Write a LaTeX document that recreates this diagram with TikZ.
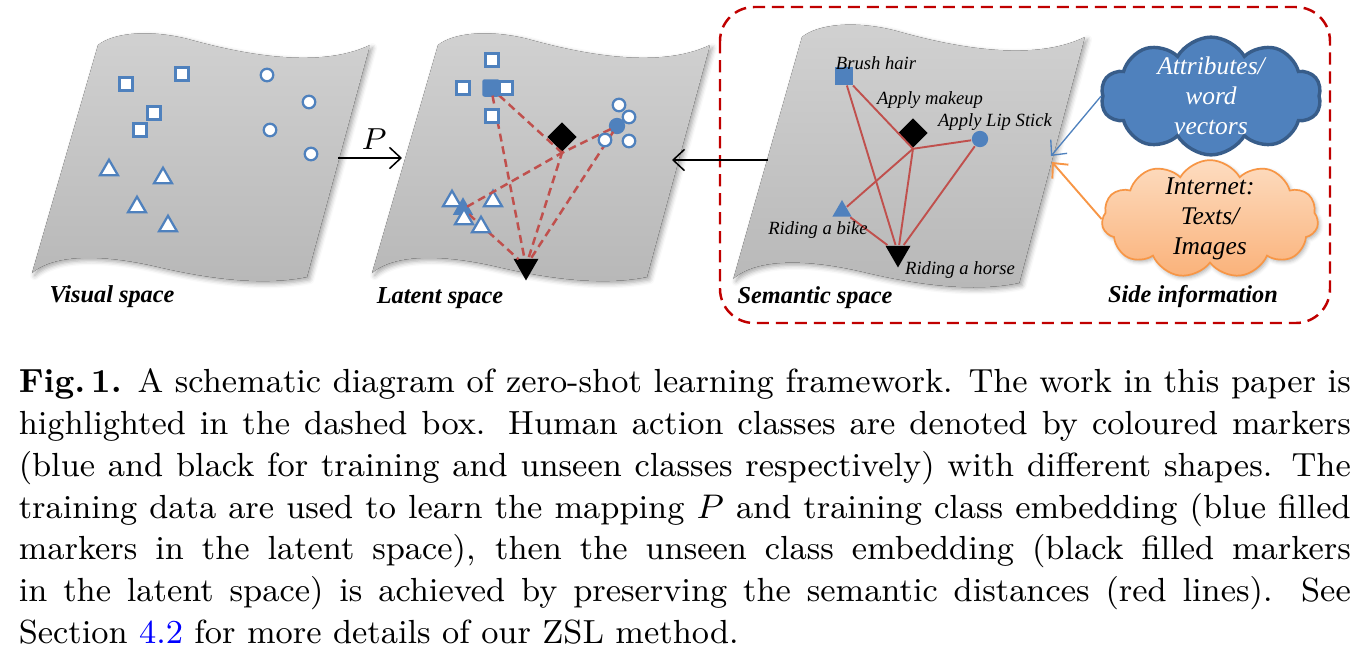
\documentclass[tikz,border=0pt]{standalone}
\usepackage{fontspec}
\newfontfamily\tnr{Liberation Serif}
\usetikzlibrary{shapes.geometric,shapes.symbols,arrows.meta,shadows.blur}
\definecolor{mblue}{HTML}{4F81BD}
\definecolor{dblue}{HTML}{385D8A}
\definecolor{lred}{HTML}{C0504D}
\definecolor{boxred}{HTML}{C00000}
\definecolor{orng}{HTML}{F79646}
\definecolor{peachtop}{HTML}{FDDCC0}
\definecolor{peachbot}{HTML}{FAB27A}
\tikzset{
  sheet/.style={top color=black!18, bottom color=black!28, draw=none,
    blur shadow={shadow xshift=0.7pt, shadow yshift=-0.7pt, shadow blur radius=1.2pt, shadow opacity=35}},
  osq/.style={rectangle, draw=mblue, fill=white, line width=0.6pt, minimum size=3.4pt, inner sep=0pt},
  ocirc/.style={circle, draw=mblue, fill=white, line width=0.6pt, minimum size=3.3pt, inner sep=0pt},
  otri/.style={regular polygon, regular polygon sides=3, draw=mblue, fill=white, line width=0.6pt, minimum size=5.4pt, inner sep=0pt},
  fsq/.style={rectangle, rounded corners=0.6pt, fill=mblue, minimum size=4.6pt, inner sep=0pt},
  fcirc/.style={circle, fill=mblue, minimum size=4.3pt, inner sep=0pt},
  ftri/.style={regular polygon, regular polygon sides=3, fill=mblue, minimum size=6.2pt, inner sep=0pt},
  bdia/.style={diamond, fill=black, minimum size=7.9pt, inner sep=0pt},
  btri/.style={regular polygon, regular polygon sides=3, shape border rotate=180, fill=black, minimum size=7.6pt, inner sep=0pt},
  sptitle/.style={font=\tnr\bfseries\itshape\fontsize{6.4}{7.5}\selectfont, inner sep=0pt},
  cls/.style={font=\tnr\itshape\fontsize{4.9}{6}\selectfont, inner sep=0pt},
  dline/.style={lred, line width=0.65pt, dash pattern=on 2.1pt off 1.3pt, shorten <=-0.5pt, shorten >=-0.5pt},
  sline/.style={lred, line width=0.5pt},
  flow/.style={line width=0.4pt, -{Straight Barb[length=3pt,width=5.6pt]}},
}
\begin{document}
\begin{tikzpicture}[x=0.2632pt,y=-0.2632pt]
  \useasboundingbox (0,0) rectangle (1370,653);
  \newcommand{\sheetpath}{(0,0) .. controls (15,-12) and (50,-16) .. (90,-6)
    .. controls (140,8) and (220,25) .. (272,0) -- (209,232)
    .. controls (170,240) and (120,236) .. (60,222)
    .. controls (0,208) and (-45,210) .. (-66,228) -- cycle}

  % the three spaces
  \begin{scope}[shift={(98,45)}]
    \fill[sheet] \sheetpath;
  \end{scope}
  \begin{scope}[shift={(438,45)}]
    \fill[sheet] \sheetpath;
  \end{scope}
  \begin{scope}[shift={(802,37)}, xscale=1.04, yscale=1.06]
    \fill[sheet] \sheetpath;
  \end{scope}

  % visual space
  \foreach \n/\x/\y in {1/126/84, 2/182/74, 3/154/113, 4/140/130}
    \node[osq] (vsq\n) at (\x,\y) {};
  \foreach \n/\x/\y in {1/267/75, 2/309/102, 3/270/130, 4/311/154}
    \node[ocirc] (vci\n) at (\x,\y) {};
  \foreach \n/\x/\y in {1/109/170, 2/163/178, 3/137/207, 4/168/226}
    \node[otri] (vtr\n) at (\x,\y) {};
  \node[sptitle] (vis) at (112,297) {Visual space};

  % latent space
  \foreach \n/\x/\y in {1/452/201, 2/493/201}
    \node[otri] (ltr\n) at (\x,\y) {};
  \node[fsq] (lsq) at (491,88) {};
  \node[fcirc] (lci) at (617,126) {};
  \node[ftri] (ltr) at (463,209) {};
  \node[bdia] (ldia) at (562,137) {};
  \node[btri] (ldown) at (526,266) {};
  \draw[dline] (lsq) -- (ldia.south);
  \draw[dline] (lsq) -- (ldown);
  \draw[dline] (lci) -- (ldia.south);
  \draw[dline] (lci) -- (ldown);
  \draw[dline] (ldia.south) -- (ltr);
  \draw[dline] (ldia.south) -- (ldown);
  \draw[dline] (ltr) -- (ldown);
  \foreach \n/\x/\y in {1/492/60, 2/463/88, 3/506/88, 4/492/116}
    \node[osq] (lsq\n) at (\x,\y) {};
  \foreach \n/\x/\y in {1/619/105, 2/629/117, 3/605/140, 4/629/141}
    \node[ocirc] (lci\n) at (\x,\y) {};
  \foreach \n/\x/\y in {3/464/219, 4/481/227}
    \node[otri] (ltr\n) at (\x,\y) {};
  \node[sptitle] (lat) at (440,298) {Latent space};

  % semantic space
  \node[fsq, rounded corners=0pt] (ssq) at (844,76) {};
  \node[bdia] (sdia) at (913,133) {};
  \node[fcirc] (sci) at (980,139) {};
  \node[ftri, minimum size=5.8pt] (str) at (842,211) {};
  \node[btri] (sdown) at (898,253) {};
  \draw[sline] (ssq) -- (sdia.south);
  \draw[sline] (ssq) -- (sdown);
  \draw[sline] (sdia.south) -- (sci);
  \draw[sline] (sdia.south) -- (str);
  \draw[sline] (sdia.south) -- (sdown);
  \draw[sline] (sci) -- (sdown);
  \draw[sline] (str) -- (sdown);
  \node[cls] (brush) at (876,63) {Brush hair};
  \node[cls] (makeup) at (930,100) {Apply makeup};
  \node[cls] (lips) at (995,122) {Apply Lip Stick};
  \node[cls] (bike) at (818,230) {Riding a bike};
  \node[cls] (horse) at (960,270) {Riding a horse};
  \node[sptitle] (sem) at (815,298) {Semantic space};

  % side information
  \draw[boxred, line width=0.65pt, dash pattern=on 3.2pt off 1.8pt, rounded corners=9pt]
    (720,7) rectangle (1330,323);
  \node[cloud, cloud puffs=10, cloud puff arc=120, aspect=1.9, fill=mblue, draw=dblue,
    line width=0.9pt, minimum width=58pt, minimum height=31pt, inner sep=-3pt,
    text=white, align=center, font=\tnr\itshape\fontsize{6.7}{7.9}\selectfont]
    (attr) at (1211,96) {Attributes/\\word\\vectors};
  \node[cloud, cloud puffs=11, cloud puff arc=120, aspect=1.9, top color=peachtop,
    bottom color=peachbot, draw=orng, line width=0.45pt, minimum width=57pt,
    minimum height=31pt, inner sep=-3pt, align=center,
    font=\tnr\itshape\fontsize{6.7}{7.9}\selectfont,
    blur shadow={shadow xshift=0.5pt, shadow yshift=-0.6pt, shadow blur radius=1pt, shadow opacity=30}]
    (web) at (1210,219) {Internet:\\Texts/\\Images};
  \node[sptitle] (side) at (1193,297) {Side information};

  % mappings
  \coordinate (vout) at (338,158);
  \coordinate (lin) at (402,158);
  \coordinate (sout) at (768,160);
  \coordinate (lout) at (672,160);
  \coordinate (sa) at (1051,156);
  \coordinate (sb) at (1052,162);
  \draw[flow] (vout) -- (lin);
  \node[font=\fontsize{7.8}{9}\selectfont, inner sep=0pt] (map) at (374,139) {$P$};
  \draw[flow] (sout) -- (lout);
  \draw[flow, mblue, line width=0.35pt] (attr.west) -- (sa);
  \draw[flow, orng, line width=0.5pt] (web.west) -- (sb);

  % caption
  \node[anchor=north west, text width=350.6pt, align=justify, inner sep=0pt, font=\fontsize{8.8}{11}\selectfont] (cap) at (18,368) {\noindent
    \textbf{Fig.\,1.} A schematic diagram of zero-shot learning framework. The work in this paper is\linebreak
    highlighted in the dashed box. Human action classes are denoted by coloured markers\linebreak
    (blue and black for training and unseen classes respectively) with different shapes. The\linebreak
    training data are used to learn the mapping $P$ and training class embedding (blue filled\linebreak
    markers in the latent space), then the unseen class embedding (black filled markers\linebreak
    in the latent space) is achieved by preserving the semantic distances (red lines). See\linebreak
    Section \textcolor{blue}{4.2} for more details of our ZSL method.};
\end{tikzpicture}
\end{document}
